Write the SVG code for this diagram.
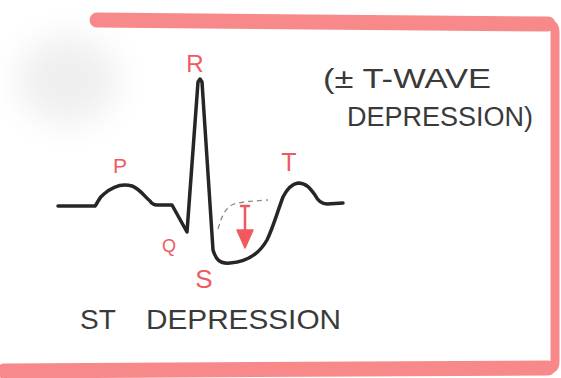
<svg xmlns="http://www.w3.org/2000/svg" width="561" height="378" viewBox="0 0 561 378">
  <defs>
    <filter id="blur" x="-50%" y="-50%" width="200%" height="200%">
      <feGaussianBlur stdDeviation="16"/>
    </filter>
    <style>
      .frame { fill: none; stroke: #f7898a; stroke-linecap: round; stroke-linejoin: round; }
      .ecg { fill: none; stroke: #262626; stroke-width: 3.5; stroke-linecap: round; stroke-linejoin: round; }
      .lbl { font-family: "Liberation Sans", "DejaVu Sans", sans-serif; fill: #f05a5e; text-anchor: middle; }
      .note { font-family: "Liberation Sans", "DejaVu Sans", sans-serif; fill: #3a3a3a; }
    </style>
  </defs>
  <rect width="561" height="378" fill="#ffffff"/>
  <ellipse cx="68" cy="80" rx="50" ry="44" fill="#efefef" filter="url(#blur)"/>

  <g id="frame">
    <path class="frame" stroke-width="15" d="M97,20 L548,24"/>
    <path class="frame" stroke-width="9" d="M548,24 Q555,24 555,32 L555,362 Q555,370 546,370"/>
    <path class="frame" stroke-width="15" d="M4,371 L548,368"/>
  </g>

  <g id="ecg">
    <path class="ecg" d="M58,206 L95,206 C98,203 98,198 104,194 C112,187 122,183 132,186 C140,189 145,197 150,201 C152,204 154,205 157,205 L172,205 L187,232 L198,82 L200,79 L202,82 L213,250 C216,260 220,264 230,263 C245,262 258,256 267,240 C273,228 278,210 283,197 C287,189 292,184 298,183 C306,183 310,188 315,195 C318,201 321,204 327,204 L343,203"/>
    <path d="M218,229 C222,215 226,207 234,204 C245,201 256,201 268,200" fill="none" stroke="#8a8a8a" stroke-width="1.3" stroke-dasharray="5,4"/>
  </g>

  <g id="arrow">
    <path d="M241,206 L249,206 M245,206 L245,232" fill="none" stroke="#f05a5e" stroke-width="2.5" stroke-linecap="round"/>
    <path d="M237,230 L253,230 L245,248 Z" fill="#f05a5e" stroke="#f05a5e" stroke-width="1.5" stroke-linejoin="round"/>
  </g>

  <g id="labels">
    <text class="lbl" x="195" y="72" font-size="24">R</text>
    <text class="lbl" x="120" y="173" font-size="21">P</text>
    <text class="lbl" x="289" y="171" font-size="25">T</text>
    <text class="lbl" x="169" y="252" font-size="18">Q</text>
    <text class="lbl" x="204" y="288" font-size="26">S</text>
  </g>

  <g id="notes">
    <text class="note" x="323" y="88" font-size="28" textLength="168" lengthAdjust="spacingAndGlyphs">(± T-WAVE</text>
    <text class="note" x="347" y="126" font-size="27" textLength="186" lengthAdjust="spacingAndGlyphs">DEPRESSION)</text>
    <text class="note" x="80" y="329" font-size="28">ST <tspan x="146" textLength="195" lengthAdjust="spacingAndGlyphs">DEPRESSION</tspan></text>
  </g>
</svg>
